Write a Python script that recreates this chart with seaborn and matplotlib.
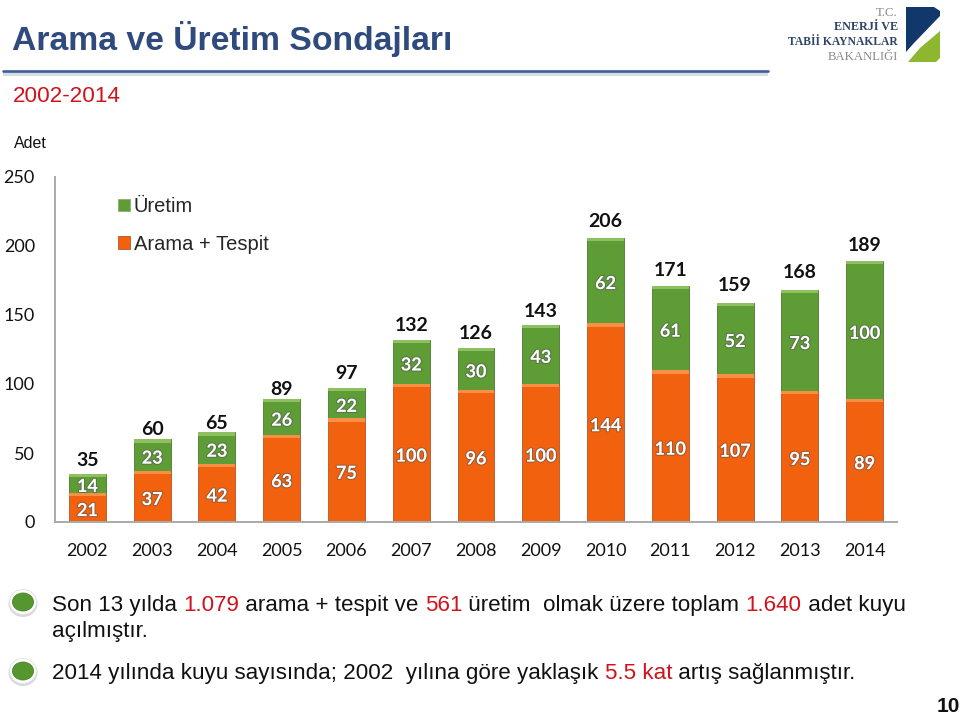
import matplotlib
matplotlib.use("Agg")
import matplotlib.pyplot as plt
from matplotlib.patches import Rectangle, Polygon, Ellipse
from matplotlib.lines import Line2D
import matplotlib.patheffects as pe
import numpy as np
import pandas as pd
import seaborn as sns

years = ["2002","2003","2004","2005","2006","2007","2008","2009","2010","2011","2012","2013","2014"]
arama = [21,37,42,63,75,100,96,100,144,110,107,95,89]
uretim = [14,23,23,26,22,32,30,43,62,61,52,73,100]
totals = [35,60,65,89,97,132,126,143,206,171,159,168,189]
yticks = [0,50,100,150,200,250]
# gap (points) between each hand-placed total label and its bar
total_pads = [3.2,1.0,0.3,1.0,4.6,3.9,4.6,3.2,5.3,5.3,6.1,6.8,5.3]

ORANGE, ORANGE_L = "#F2610E", "#F88F45"
GREEN, GREEN_L = "#5E9C36", "#8FC060"
SANS = "Liberation Sans"
CAL = "Lato"

sns.set_theme(style="white")
W, H = 960, 715
fig = plt.figure(figsize=(W/100, H/100), dpi=100, facecolor="white")

# pixel-space overlay for slide furniture
ov = fig.add_axes([0, 0, 1, 1], zorder=5)
ov.set_xlim(0, W); ov.set_ylim(H, 0); ov.axis("off"); ov.patch.set_alpha(0)

ax = fig.add_axes([55/W, 1-522/H, (897-55)/W, (522-177)/H])
ax.patch.set_alpha(0)
df = pd.DataFrame({"year": years, "arama": arama, "uretim": uretim, "total": totals})

sns.barplot(data=df, x="year", y="arama", color=ORANGE, saturation=1, width=0.57,
            edgecolor="#B5532A", linewidth=0.6, ax=ax)
sns.barplot(data=df, x="year", y="uretim", color=GREEN, saturation=1, width=0.57,
            bottom=np.array(arama), edgecolor="#4A7A2C", linewidth=0.6, ax=ax)
ax.set_ylim(0, 250)
ax.set_xlabel(""); ax.set_ylabel("")
ax.set_yticks(yticks)
ax.tick_params(axis="both", length=0, labelsize=13)
ax.tick_params(axis="y", pad=14.5)
ax.tick_params(axis="x", pad=15)
for lab in ax.get_xticklabels() + ax.get_yticklabels():
    lab.set_fontfamily(CAL); lab.set_color("#111111")
for s in ("top", "right"):
    ax.spines[s].set_visible(False)
for s in ("left", "bottom"):
    ax.spines[s].set_color("#AAAAAA"); ax.spines[s].set_linewidth(1.4)

c_a, c_u = ax.containers[0], ax.containers[1]
# bevel highlight at the top of each bar segment
for cont, light in ((c_a, ORANGE_L), (c_u, GREEN_L)):
    for b in cont:
        ax.add_patch(Rectangle((b.get_x(), b.get_y()+b.get_height()-2.4), b.get_width(), 2.4,
                               facecolor=light, edgecolor="none", zorder=b.get_zorder()+0.1))

shadow = [pe.withStroke(linewidth=1.6, foreground="#55555588")]
for cont in (c_a, c_u):
    for t in ax.bar_label(cont, label_type="center", color="white", fontsize=13,
                          fontweight="bold", fontfamily=CAL):
        t.set_path_effects(shadow); t.set_zorder(6)
        t.xyann = (0, -2.2)
tot_labels = ax.bar_label(c_u, labels=[str(v) for v in totals], padding=5, color="#111111",
                          fontsize=14, fontweight="bold", fontfamily=CAL)
for t, p in zip(tot_labels, total_pads):
    t.xyann = (0, p)

h = [Rectangle((0,0),1,1,facecolor=GREEN,edgecolor="#8DAF74",linewidth=0.6),
     Rectangle((0,0),1,1,facecolor=ORANGE,edgecolor="#B5532A",linewidth=0.6)]
leg = ax.legend(h, ["Üretim", "Arama + Tespit"], loc="upper left",
                bbox_to_anchor=(118/W, 1-197/H), bbox_transform=fig.transFigure,
                frameon=False, prop={"family": SANS, "size": 14.5},
                handlelength=0.6, handleheight=0.6, handletextpad=0.18,
                labelspacing=0.93, borderpad=0, borderaxespad=0)

# header
ov.text(12, 39, "Arama ve Üretim Sondajları", family=SANS, weight="bold", size=24.3,
        color="#2F4A7D", va="center", ha="left")
ov.add_patch(Rectangle((3, 72), 765, 4, facecolor="#D5DDDF", edgecolor="none"))
ov.add_line(Line2D([3, 768], [71, 71], color="#3F5C9E", lw=1.9))
ov.text(13, 96, "2002-2014", family=SANS, size=16.2, color="#D0121B", va="center")
ov.text(14, 143, "Adet", family=SANS, size=11.5, color="#111111", va="center")

# logo
ov.add_patch(Polygon([(906,7),(934,7),(940,11),(940,16),(914,43),(906,52)], closed=True,
                     facecolor="#12376B", edgecolor="none"))
ov.add_patch(Polygon([(940,31),(940,58),(936,62),(908,62),(920,48)], closed=True,
                     facecolor="#8DB72E", edgecolor="none"))
for y, txt, fs, col, wt in [(13, "T.C.", 9.2, "#8A8A8A", "normal"), (27, "ENERJİ VE", 8.7, "#2D4468", "bold"),
                            (42, "TABİİ KAYNAKLAR", 8.4, "#2D4468", "bold"), (57, "BAKANLIĞI", 9.2, "#8A8A8A", "normal")]:
    ov.text(898, y, txt, family="Liberation Serif", size=fs, color=col, ha="right", va="center", weight=wt)

# body text with coloured runs
def runs(x, y, parts, size=16.13):
    r = fig.canvas.get_renderer()
    for txt, col in parts:
        t = ov.text(x, y, txt, family=SANS, size=size, color=col, ha="left", va="baseline")
        x += t.get_window_extent(r).width

RED = "#D0121B"; BK = "#111111"
runs(52, 611, [("Son 13 yılda ", BK), ("1.079", RED), (" arama + tespit ve ", BK), ("561", RED),
               (" üretim  olmak üzere toplam ", BK), ("1.640", RED), (" adet kuyu", BK)])
runs(52, 637, [("açılmıştır.", BK)])
runs(52, 679, [("2014 yılında kuyu sayısında; 2002  yılına göre yaklaşık ", BK), ("5.5 kat", RED),
               (" artış sağlanmıştır.", BK)])

for cy in (602, 671):
    ov.add_patch(Ellipse((23, cy+1.5), 29, 27, facecolor="#C8C8C8", edgecolor="none", alpha=0.7))
    ov.add_patch(Ellipse((23, cy), 27, 25, facecolor="white", edgecolor="#E2E2E2", lw=0.6))
    ov.add_patch(Ellipse((23, cy), 21, 18, facecolor="#55962F", edgecolor="#4A8428", lw=0.6))

ov.text(960, 706, "10", family=SANS, weight="bold", size=15, color="#111111", ha="right", va="center")

fig.savefig("out.png", dpi=100, facecolor="white")
